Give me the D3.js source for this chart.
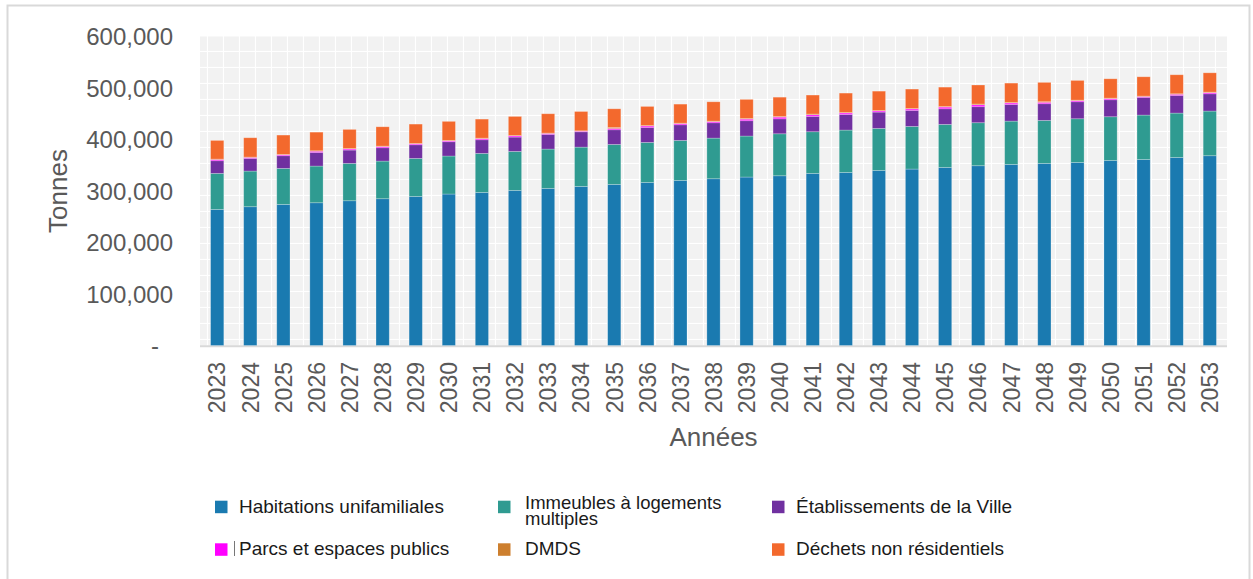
<!DOCTYPE html>
<html>
<head>
<meta charset="utf-8">
<script src="https://cdn.jsdelivr.net/npm/d3@7"></script>
<style>
  body { margin: 0; background: #fff; }
  text { font-family: "Liberation Sans", Arial, sans-serif; }
</style>
</head>
<body>
<div id="chart-area"></div>
<script>
var svgWidth = 1253
var svgHeight = 579

// Années
var years = d3.range(2023, 2054)

// Tonnes par catégorie
var habitations = [264300, 269500, 274000, 277200, 281100, 285000, 289500, 294100, 297300, 301200, 305100,
	308900, 312800, 316700, 320600, 323800, 327100, 329600, 334200, 336100, 340000, 342600,
	345800, 349100, 351600, 353600, 355500, 359400, 361300, 365200, 368500]
var immeubles = [69900, 69200, 69900, 71200, 72500, 73100, 73800, 73800, 75700, 75700, 76300,
	76300, 77600, 77600, 77600, 78900, 79600, 81500, 80900, 82200, 81500, 82800,
	83500, 83500, 84100, 83500, 84800, 84800, 86100, 86100, 86700]
var etablissements = [24600, 24600, 24600, 26500, 25900, 25900, 26500, 27800, 26500, 27800, 28500,
	29800, 28500, 29100, 30400, 29800, 29800, 29100, 29800, 30400, 31700, 31100,
	30400, 31100, 32400, 32400, 33000, 33000, 34300, 34300, 33600]
var parcs = [2300, 1800, 1800, 2300, 2000, 2200, 1800, 1700, 2200, 2200, 1800,
	1200, 2500, 2700, 2300, 2200, 3000, 3200, 3000, 2700, 2200, 2700,
	3200, 3600, 2700, 2700, 2200, 2200, 1700, 2200, 2200]
var dmds = [900, 800, 800, 900, 1200, 1000, 800, 900, 1000, 1000, 800,
	700, 2000, 1200, 900, 1000, 1500, 1300, 1500, 1200, 1000, 1200,
	1300, 1600, 1200, 1200, 1000, 1000, 900, 1000, 1000]
var nonResidentiels = [36200, 37500, 37500, 36200, 36900, 37500, 37500, 36900, 36900, 36900, 37500,
	37500, 36200, 36900, 36900, 37500, 36900, 37500, 36900, 37500, 37500, 37500,
	37500, 36900, 37500, 37500, 38200, 37500, 37500, 36900, 37500]

var seriesNames = ["Habitations unifamiliales", "Immeubles à logements multiples", "Établissements de la Ville",
	"Parcs et espaces publics", "DMDS", "Déchets non résidentiels"]
var seriesKeys = ["hab", "imm", "eta", "parc", "dmds", "dnr"]
var seriesColors = ["#1a7ab0", "#2f9b91", "#7030a0", "#ff00ff", "#cd7f2e", "#f3692d"]
var yTicks = [0, 100000, 200000, 300000, 400000, 500000, 600000]

var data = years.map(function(y, i){
	return {
		year: y,
		hab: habitations[i],
		imm: immeubles[i],
		eta: etablissements[i],
		parc: parcs[i],
		dmds: dmds[i],
		dnr: nonResidentiels[i]
	}
})

var svg = d3.select("#chart-area")
			.append("svg")
			.attr("width", svgWidth)
			.attr("height", svgHeight)

// cadre
svg.append("rect")
	.attr("x", 7.5)
	.attr("y", 5.5)
	.attr("width", 1242)
	.attr("height", 600)
	.attr("fill", "none")
	.attr("stroke", "#d9d9d9")
	.attr("stroke-width", 2)

var plotLeft = 200, plotRight = 1227, plotTop = 36.5, plotBottom = 345.5

var x = d3.scaleBand()
			.domain(years)
			.range([plotLeft, plotRight])
			.paddingInner(0.6)
			.paddingOuter(0.32)

var y = d3.scaleLinear()
			.domain([0, 600000])
			.range([plotBottom, plotTop])

var colr = d3.scaleOrdinal()
			.domain(seriesKeys)
			.range(seriesColors)

// fond quadrillé
var defs = svg.append("defs")
var pat = defs.append("pattern")
	.attr("id", "grille")
	.attr("patternUnits", "userSpaceOnUse")
	.attr("x", 0).attr("y", 4)
	.attr("width", 16).attr("height", 16)
pat.append("rect").attr("width", 16).attr("height", 16).attr("fill", "#f2f2f2")
pat.append("rect").attr("x", 14.9).attr("width", 1.4).attr("height", 16).attr("fill", "#fff")
pat.append("rect").attr("y", 14.9).attr("height", 1.4).attr("width", 16).attr("fill", "#fff")

svg.append("rect")
	.attr("x", plotLeft)
	.attr("y", plotTop)
	.attr("width", plotRight - plotLeft)
	.attr("height", plotBottom - plotTop)
	.attr("fill", "url(#grille)")

// axe x
svg.append("line")
	.attr("x1", plotLeft).attr("x2", plotRight)
	.attr("y1", plotBottom + 0.8).attr("y2", plotBottom + 0.8)
	.attr("stroke", "#d9d9d9")
	.attr("stroke-width", 2)

var stack = d3.stack().keys(seriesKeys)
var layers = stack(data)

svg.selectAll("g.layer")
	.data(layers)
	.enter()
	.append("g")
	.attr("class", "layer")
	.attr("fill", function(d){ return colr(d.key) })
	.selectAll("rect")
	.data(function(d){ return d })
	.enter()
	.append("rect")
	.attr("x", function(d){ return x(d.data.year) })
	.attr("y", function(d){ return y(d[1]) })
	.attr("width", x.bandwidth())
	.attr("height", function(d){ return y(d[0]) - y(d[1]) })
	.attr("stroke", "#ffffff")
	.attr("stroke-opacity", 0.3)
	.attr("stroke-width", 0.8)

// étiquettes y
svg.selectAll("text.ytick")
	.data(yTicks)
	.enter()
	.append("text")
	.attr("class", "ytick")
	.attr("x", function(d){ return d === 0 ? 159 : 173 })
	.attr("y", function(d){ return y(d) })
	.attr("dy", "0.36em")
	.attr("text-anchor", "end")
	.attr("font-size", 24)
	.attr("fill", "#595959")
	.text(function(d){ return d === 0 ? "-" : d3.format(",")(d) })

// étiquettes x
svg.selectAll("text.xtick")
	.data(years)
	.enter()
	.append("text")
	.attr("class", "xtick")
	.attr("transform", function(d){
		return "translate(" + (x(d) + x.bandwidth() / 2) + "," + 362 + ") rotate(-90)"
	})
	.attr("dy", "0.36em")
	.attr("text-anchor", "end")
	.attr("font-size", 23)
	.attr("fill", "#595959")
	.text(function(d){ return d })

// titres d'axes
svg.append("text")
	.attr("transform", "translate(67,191) rotate(-90)")
	.attr("text-anchor", "middle")
	.attr("font-size", 26)
	.attr("fill", "#595959")
	.text("Tonnes")

svg.append("text")
	.attr("x", (plotLeft + plotRight) / 2)
	.attr("y", 446)
	.attr("text-anchor", "middle")
	.attr("font-size", 26)
	.attr("fill", "#595959")
	.text("Années")

// légende
var legX = [215, 498, 772]
var legY = [500.7, 543.3]
var legend = svg.selectAll("g.leg")
	.data(seriesNames)
	.enter()
	.append("g")
	.attr("class", "leg")
	.attr("transform", function(d, i){
		return "translate(" + legX[i % 3] + "," + legY[Math.floor(i / 3)] + ")"
	})

legend.append("rect")
	.attr("width", 12.5)
	.attr("height", 12.5)
	.attr("fill", function(d, i){ return seriesColors[i] })

legend.each(function(d, i){
	var g = d3.select(this)
	var lines = d === "Immeubles à logements multiples" ? ["Immeubles à logements", "multiples"] : [d]
	var tx = i % 3 === 1 ? 27 : 24
	g.selectAll("text")
		.data(lines)
		.enter()
		.append("text")
		.attr("x", tx)
		.attr("y", function(l, j){ return lines.length > 1 ? 8 + j * 16.5 : 12 })
		.attr("font-size", lines.length > 1 ? 18.5 : 19)
		.attr("fill", "#1a1a1a")
		.text(function(l){ return l })
})

// petit trait devant « Parcs »
svg.append("line")
	.attr("x1", 234.5).attr("x2", 234.5)
	.attr("y1", 541).attr("y2", 556)
	.attr("stroke", "#777")
	.attr("stroke-width", 1)
</script>
</body>
</html>
